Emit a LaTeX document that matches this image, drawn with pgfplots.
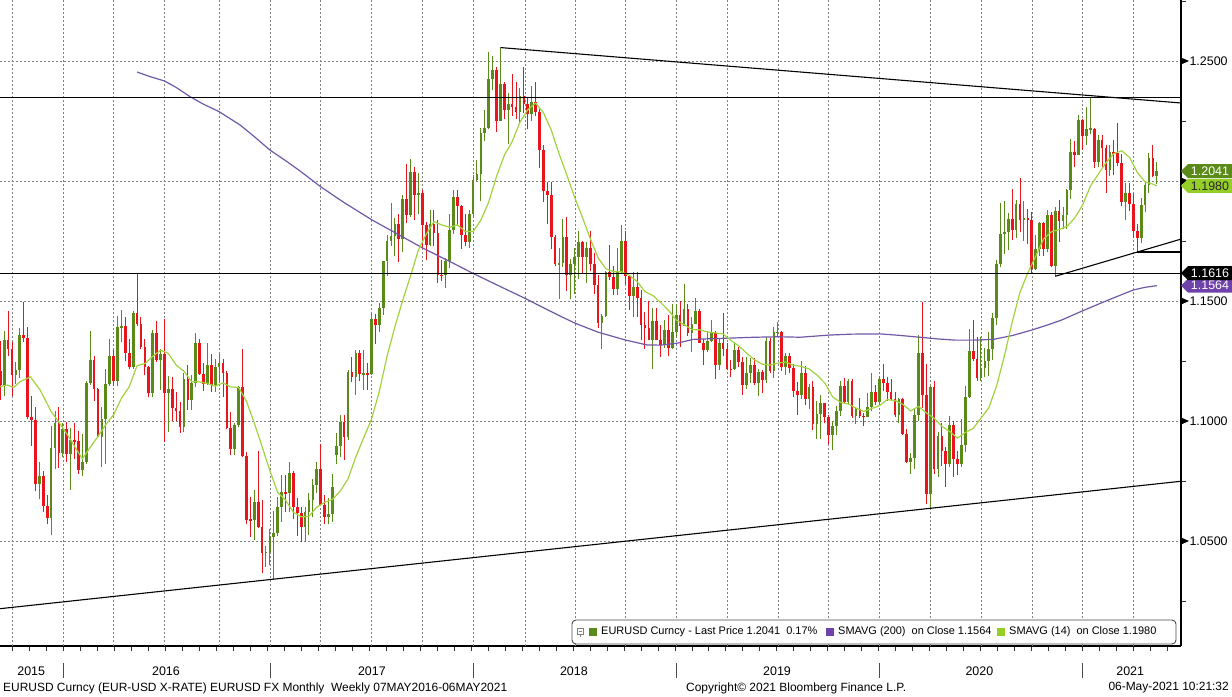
\documentclass[border=0pt]{standalone}
\usepackage{pgfplots}
\pgfplotsset{compat=1.18}
\usepackage{pgfplotstable}
\usepackage{fontspec}
\setmainfont{Liberation Sans}

\definecolor{upc}{RGB}{90,138,24}
\definecolor{dnc}{RGB}{232,22,28}
\definecolor{smaf}{RGB}{160,212,60}
\definecolor{smas}{RGB}{112,88,168}
\definecolor{tagpur}{RGB}{110,66,170}
\definecolor{taglg}{RGB}{150,206,40}
\definecolor{gridc}{RGB}{128,128,128}

% weekly EURUSD candles: week index, open, high, low, close
\pgfplotstableread{
i o h l c
0 1.1210 1.1332 1.1087 1.1151
1 1.1151 1.1375 1.1105 1.1339
2 1.1339 1.1460 1.1270 1.1300
3 1.1300 1.1330 1.1105 1.1193
4 1.1193 1.1245 1.1155 1.1214
5 1.1214 1.1386 1.1180 1.1357
6 1.1357 1.1495 1.1330 1.1347
7 1.1347 1.1390 1.1010 1.1017
8 1.1017 1.1103 1.0896 1.1005
9 1.1005 1.1060 1.0707 1.0739
10 1.0739 1.0830 1.0675 1.0772
11 1.0772 1.0790 1.0620 1.0646
12 1.0646 1.0691 1.0570 1.0594
13 1.0594 1.0981 1.0524 1.0886
14 1.0886 1.1043 1.0800 1.0990
15 1.0990 1.1060 1.0805 1.0867
16 1.0867 1.0990 1.0850 1.0965
17 1.0965 1.0994 1.0830 1.0862
18 1.0862 1.0972 1.0711 1.0922
19 1.0922 1.0990 1.0840 1.0915
20 1.0915 1.0958 1.0778 1.0797
21 1.0797 1.0945 1.0770 1.0831
22 1.0831 1.1165 1.0820 1.1157
23 1.1157 1.1376 1.1150 1.1255
24 1.1255 1.1270 1.1085 1.1132
25 1.1132 1.1138 1.0932 1.0933
26 1.0933 1.1059 1.0810 1.1008
27 1.1008 1.1218 1.0822 1.1153
28 1.1153 1.1342 1.1145 1.1269
29 1.1269 1.1296 1.1144 1.1168
30 1.1168 1.1438 1.1145 1.1390
31 1.1390 1.1464 1.1330 1.1397
32 1.1397 1.1435 1.1248 1.1285
33 1.1285 1.1340 1.1215 1.1225
34 1.1225 1.1460 1.1217 1.1452
35 1.1452 1.1616 1.1394 1.1404
36 1.1404 1.1432 1.1300 1.1309
37 1.1309 1.1340 1.1190 1.1225
38 1.1225 1.1230 1.1098 1.1115
39 1.1115 1.1380 1.1098 1.1365
40 1.1365 1.1416 1.1245 1.1253
41 1.1253 1.1300 1.1130 1.1279
42 1.1279 1.1427 1.0912 1.1117
43 1.1117 1.1187 1.0955 1.1135
44 1.1135 1.1185 1.1000 1.1055
45 1.1055 1.1120 1.1000 1.1040
46 1.1040 1.1080 1.0952 1.0976
47 1.0976 1.1200 1.0954 1.1175
48 1.1175 1.1235 1.1045 1.1086
49 1.1086 1.1192 1.1045 1.1160
50 1.1160 1.1366 1.1140 1.1325
51 1.1325 1.1340 1.1190 1.1196
52 1.1196 1.1240 1.1123 1.1154
53 1.1154 1.1327 1.1150 1.1233
54 1.1233 1.1280 1.1120 1.1152
55 1.1152 1.1257 1.1120 1.1227
56 1.1227 1.1280 1.1160 1.1241
57 1.1241 1.1260 1.1100 1.1201
58 1.1201 1.1210 1.0966 1.0972
59 1.0972 1.1038 1.0858 1.0883
60 1.0883 1.0990 1.0860 1.0985
61 1.0985 1.1144 1.0975 1.1140
62 1.1140 1.1299 1.0850 1.0856
63 1.0856 1.0870 1.0569 1.0589
64 1.0589 1.0685 1.0518 1.0588
65 1.0588 1.0713 1.0505 1.0663
66 1.0663 1.0874 1.0553 1.0558
67 1.0558 1.0669 1.0366 1.0450
68 1.0450 1.0480 1.0392 1.0455
69 1.0455 1.0550 1.0400 1.0517
70 1.0517 1.0625 1.0341 1.0532
71 1.0532 1.0685 1.0520 1.0643
72 1.0643 1.0775 1.0580 1.0704
73 1.0704 1.0776 1.0620 1.0699
74 1.0699 1.0829 1.0620 1.0783
75 1.0783 1.0790 1.0590 1.0640
76 1.0640 1.0680 1.0520 1.0615
77 1.0615 1.0640 1.0494 1.0560
78 1.0560 1.0640 1.0495 1.0620
79 1.0620 1.0700 1.0525 1.0671
80 1.0671 1.0760 1.0600 1.0734
81 1.0734 1.0828 1.0700 1.0799
82 1.0799 1.0906 1.0650 1.0652
83 1.0652 1.0690 1.0570 1.0598
84 1.0598 1.0680 1.0570 1.0614
85 1.0614 1.0778 1.0580 1.0727
86 1.0858 1.0948 1.0820 1.0895
87 1.0895 1.1023 1.0850 1.0997
88 1.0997 1.1023 1.0839 1.0933
89 1.0933 1.1212 1.0920 1.1206
90 1.1206 1.1268 1.1162 1.1183
91 1.1183 1.1296 1.1110 1.1283
92 1.1283 1.1296 1.1168 1.1196
93 1.1196 1.1296 1.1130 1.1197
94 1.1197 1.1240 1.1130 1.1196
95 1.1196 1.1445 1.1190 1.1426
96 1.1426 1.1446 1.1320 1.1399
97 1.1399 1.1490 1.1371 1.1471
98 1.1471 1.1668 1.1440 1.1666
99 1.1666 1.1777 1.1603 1.1750
100 1.1750 1.1910 1.1730 1.1772
101 1.1772 1.1846 1.1688 1.1820
102 1.1820 1.1862 1.1662 1.1760
103 1.1760 1.1940 1.1705 1.1924
104 1.1924 1.2070 1.1823 1.1859
105 1.1859 1.2092 1.1850 1.2036
106 1.2036 1.2060 1.1837 1.1942
107 1.1942 1.2035 1.1862 1.1952
108 1.1952 1.1962 1.1717 1.1815
109 1.1815 1.1830 1.1669 1.1732
110 1.1732 1.1880 1.1728 1.1822
111 1.1822 1.1880 1.1731 1.1782
112 1.1782 1.1837 1.1574 1.1608
113 1.1608 1.1669 1.1584 1.1607
114 1.1607 1.1680 1.1554 1.1665
115 1.1665 1.1862 1.1636 1.1794
116 1.1794 1.1961 1.1780 1.1932
117 1.1932 1.1961 1.1812 1.1894
118 1.1894 1.1900 1.1717 1.1773
119 1.1773 1.1863 1.1730 1.1747
120 1.1747 1.1880 1.1720 1.1863
121 1.1863 1.2023 1.1849 1.2005
122 1.2005 1.2089 1.2000 1.2029
123 1.2029 1.2219 1.1915 1.2200
124 1.2200 1.2296 1.2165 1.2220
125 1.2220 1.2537 1.2215 1.2427
126 1.2427 1.2520 1.2378 1.2461
127 1.2461 1.2475 1.2206 1.2252
128 1.2252 1.2556 1.2250 1.2405
129 1.2405 1.2414 1.2260 1.2294
130 1.2294 1.2365 1.2155 1.2319
131 1.2319 1.2446 1.2272 1.2307
132 1.2307 1.2413 1.2258 1.2289
133 1.2289 1.2388 1.2240 1.2354
134 1.2354 1.2476 1.2285 1.2321
135 1.2321 1.2345 1.2215 1.2280
136 1.2280 1.2396 1.2250 1.2330
137 1.2330 1.2414 1.2270 1.2288
138 1.2288 1.2302 1.2055 1.2130
139 1.2130 1.2150 1.1911 1.1960
140 1.1960 1.1996 1.1822 1.1942
141 1.1942 1.1997 1.1716 1.1767
142 1.1767 1.1774 1.1644 1.1653
143 1.1653 1.1720 1.1510 1.1659
144 1.1659 1.1840 1.1642 1.1768
145 1.1768 1.1852 1.1540 1.1609
146 1.1609 1.1675 1.1508 1.1656
147 1.1656 1.1721 1.1528 1.1685
148 1.1685 1.1791 1.1590 1.1746
149 1.1746 1.1748 1.1614 1.1685
150 1.1685 1.1745 1.1575 1.1722
151 1.1722 1.1791 1.1624 1.1656
152 1.1656 1.1700 1.1529 1.1566
153 1.1566 1.1610 1.1386 1.1410
154 1.1410 1.1446 1.1301 1.1439
155 1.1439 1.1624 1.1433 1.1620
156 1.1620 1.1734 1.1588 1.1601
157 1.1601 1.1645 1.1527 1.1551
158 1.1551 1.1721 1.1526 1.1623
159 1.1623 1.1815 1.1614 1.1750
160 1.1750 1.1793 1.1570 1.1604
161 1.1604 1.1609 1.1463 1.1523
162 1.1523 1.1622 1.1432 1.1560
163 1.1560 1.1621 1.1433 1.1511
164 1.1511 1.1547 1.1336 1.1402
165 1.1402 1.1456 1.1302 1.1388
166 1.1388 1.1500 1.1336 1.1336
167 1.1336 1.1472 1.1216 1.1416
168 1.1416 1.1472 1.1336 1.1339
169 1.1339 1.1401 1.1267 1.1317
170 1.1317 1.1420 1.1305 1.1378
171 1.1378 1.1442 1.1270 1.1306
172 1.1306 1.1486 1.1302 1.1370
173 1.1370 1.1487 1.1348 1.1443
174 1.1443 1.1498 1.1309 1.1395
175 1.1395 1.1570 1.1395 1.1468
176 1.1468 1.1486 1.1355 1.1366
177 1.1366 1.1433 1.1289 1.1405
178 1.1405 1.1514 1.1404 1.1457
179 1.1457 1.1467 1.1324 1.1325
180 1.1325 1.1342 1.1234 1.1295
181 1.1295 1.1373 1.1288 1.1334
182 1.1334 1.1420 1.1330 1.1365
183 1.1365 1.1375 1.1177 1.1235
184 1.1235 1.1340 1.1213 1.1325
185 1.1325 1.1448 1.1270 1.1298
186 1.1298 1.1325 1.1212 1.1217
187 1.1217 1.1255 1.1183 1.1216
188 1.1216 1.1324 1.1211 1.1296
189 1.1296 1.1309 1.1226 1.1246
190 1.1246 1.1265 1.1110 1.1151
191 1.1151 1.1265 1.1135 1.1201
192 1.1201 1.1263 1.1160 1.1233
193 1.1233 1.1264 1.1152 1.1157
194 1.1157 1.1216 1.1106 1.1205
195 1.1205 1.1214 1.1116 1.1170
196 1.1170 1.1348 1.1160 1.1334
197 1.1334 1.1347 1.1202 1.1209
198 1.1209 1.1393 1.1181 1.1370
199 1.1370 1.1412 1.1352 1.1370
200 1.1370 1.1376 1.1207 1.1225
201 1.1225 1.1285 1.1193 1.1270
202 1.1270 1.1282 1.1200 1.1219
203 1.1219 1.1237 1.1101 1.1127
204 1.1127 1.1162 1.1027 1.1109
205 1.1109 1.1250 1.1090 1.1200
206 1.1200 1.1230 1.1066 1.1091
207 1.1091 1.1153 1.1052 1.1142
208 1.1142 1.1165 1.0964 1.0989
209 1.0989 1.1085 1.0926 1.1028
210 1.1028 1.1110 1.0927 1.1074
211 1.1074 1.1075 1.0990 1.1017
212 1.1017 1.1025 1.0903 1.0940
213 1.0940 1.1000 1.0879 1.0978
214 1.0978 1.1063 1.0940 1.1040
215 1.1040 1.1166 1.1020 1.1144
216 1.1144 1.1179 1.1073 1.1080
217 1.1080 1.1175 1.1070 1.1165
218 1.1165 1.1176 1.1014 1.1019
219 1.1019 1.1055 1.0989 1.1052
220 1.1052 1.1097 1.1014 1.1022
221 1.1022 1.1033 1.0981 1.1017
222 1.1017 1.1117 1.1015 1.1059
223 1.1059 1.1200 1.1040 1.1119
224 1.1119 1.1152 1.1066 1.1079
225 1.1079 1.1188 1.1069 1.1176
226 1.1176 1.1239 1.1125 1.1160
227 1.1160 1.1184 1.1085 1.1120
228 1.1120 1.1173 1.1086 1.1090
229 1.1090 1.1119 1.1016 1.1026
230 1.1026 1.1096 1.0992 1.1093
231 1.1093 1.1096 1.0941 1.0945
232 1.0945 1.0965 1.0827 1.0831
233 1.0831 1.0866 1.0778 1.0847
234 1.0847 1.1053 1.0800 1.1026
235 1.1026 1.1357 1.1000 1.1284
236 1.1284 1.1495 1.1055 1.1107
237 1.1107 1.1236 1.0654 1.0695
238 1.0695 1.1147 1.0636 1.1141
239 1.1141 1.1168 1.0778 1.0801
240 1.0801 1.0955 1.0768 1.0936
241 1.0936 1.0990 1.0812 1.0875
242 1.0875 1.0891 1.0727 1.0821
243 1.0821 1.1019 1.0809 1.0982
244 1.0982 1.1000 1.0767 1.0840
245 1.0840 1.0875 1.0775 1.0819
246 1.0819 1.1008 1.0810 1.0901
247 1.0901 1.1145 1.0870 1.1100
248 1.1100 1.1384 1.1097 1.1290
249 1.1290 1.1422 1.1250 1.1257
250 1.1257 1.1349 1.1168 1.1178
251 1.1178 1.1349 1.1168 1.1220
252 1.1220 1.1303 1.1185 1.1248
253 1.1248 1.1371 1.1186 1.1300
254 1.1300 1.1452 1.1255 1.1428
255 1.1428 1.1670 1.1402 1.1656
256 1.1656 1.1909 1.1641 1.1778
257 1.1778 1.1916 1.1696 1.1788
258 1.1788 1.1866 1.1712 1.1842
259 1.1842 1.1966 1.1753 1.1795
260 1.1795 1.1922 1.1762 1.1904
261 1.1904 1.2011 1.1789 1.1838
262 1.1838 1.1917 1.1752 1.1845
263 1.1845 1.1882 1.1737 1.1838
264 1.1838 1.1872 1.1612 1.1632
265 1.1632 1.1775 1.1628 1.1716
266 1.1716 1.1831 1.1686 1.1827
267 1.1827 1.1830 1.1689 1.1718
268 1.1718 1.1881 1.1703 1.1860
269 1.1860 1.1870 1.1640 1.1647
270 1.1647 1.1891 1.1603 1.1875
271 1.1875 1.1920 1.1745 1.1833
272 1.1833 1.1891 1.1800 1.1857
273 1.1857 1.1965 1.1800 1.1964
274 1.1964 1.2177 1.1925 1.2121
275 1.2121 1.2165 1.2058 1.2110
276 1.2110 1.2273 1.2110 1.2256
277 1.2256 1.2260 1.2130 1.2186
278 1.2186 1.2310 1.2150 1.2216
279 1.2216 1.2349 1.2195 1.2218
280 1.2218 1.2220 1.2054 1.2081
281 1.2081 1.2190 1.2060 1.2170
282 1.2170 1.2190 1.2058 1.2136
283 1.2136 1.2150 1.1952 1.2045
284 1.2045 1.2150 1.2020 1.2119
285 1.2119 1.2170 1.2023 1.2118
286 1.2118 1.2243 1.2064 1.2074
287 1.2074 1.2114 1.1895 1.1914
288 1.1914 1.1990 1.1836 1.1951
289 1.1951 1.1990 1.1874 1.1904
290 1.1904 1.1945 1.1762 1.1793
291 1.1793 1.1820 1.1704 1.1761
292 1.1761 1.1928 1.1740 1.1900
293 1.1900 1.1995 1.1870 1.1983
294 1.1983 1.2117 1.1950 1.2097
295 1.2097 1.2150 1.2015 1.2020
296 1.2020 1.2078 1.1986 1.2041
}\candles

\begin{document}
\begin{tikzpicture}
\begin{axis}[
  at={(0bp,0bp)}, anchor=north west,
  width=1181bp, height=646bp, scale only axis,
  xmin=-0.08, xmax=302.2, ymin=1.00625, ymax=1.275417,
  clip=false,
  axis x line=bottom, axis y line=right,
  axis line style={-, line width=1.1bp},
  tick align=outside,
  major tick length=0pt, minor tick length=5bp,
  minor tick style={line width=0.8bp, black!80},
  xtick={7.9,42.4,95.1,146.8,198.8,250.6,289.2},
  xticklabels={2015,2016,2017,2018,2019,2020,2021},
  xticklabel style={anchor=center, yshift=-25bp},
  minor xtick={3.17,7.516,...,300},
  extra x ticks={3.17,16.12,29.02,41.98,56.05,69.1,82.0,95.06,108.1,121.07,134.3,147.17,160.07,173.13,186.08,199.24,212.04,224.99,238.15,251.2,264.24,277.04,290.0},
  extra x tick labels={},
  extra x tick style={grid=major},
  ytick={1.05,1.1,1.15,1.2,1.25},
  yticklabels={1.0500,1.1000,1.1500,,1.2500},
  minor ytick={1.025,1.075,1.125,1.175,1.225,1.275},
  ymajorgrids,
  grid style={gridc, line width=0.9bp, dash pattern=on 2bp off 2bp},
  yticklabel style={anchor=west, xshift=5bp},
  tick label style={font=\fontsize{12.5}{14}\selectfont},
]
% wicks
\addplot[draw=none, mark=none, forget plot, restrict x to domain=-10:400,
  error bars/.cd, y dir=plus, y explicit, error mark=none,
  error bar style={line width=1bp, draw=upc}]
  table[x expr={\thisrow{c}<\thisrow{o} ? -100 : \thisrow{i}}, y=l,
        y error plus expr={\thisrow{h}-\thisrow{l}}] {\candles};
\addplot[draw=none, mark=none, forget plot, restrict x to domain=-10:400,
  error bars/.cd, y dir=plus, y explicit, error mark=none,
  error bar style={line width=1bp, draw=dnc}]
  table[x expr={\thisrow{c}<\thisrow{o} ? \thisrow{i} : -100}, y=l,
        y error plus expr={\thisrow{h}-\thisrow{l}}] {\candles};
% bodies
\addplot[draw=none, mark=none, forget plot, restrict x to domain=-10:400,
  error bars/.cd, y dir=both, y explicit, error mark=none,
  error bar style={line width=2.7bp, draw=upc}]
  table[x expr={\thisrow{c}<\thisrow{o} ? -100 : \thisrow{i}},
        y expr={(\thisrow{o}+\thisrow{c})/2},
        y error expr={max(abs(\thisrow{c}-\thisrow{o})/2,0.0002)}] {\candles};
\addplot[draw=none, mark=none, forget plot, restrict x to domain=-10:400,
  error bars/.cd, y dir=both, y explicit, error mark=none,
  error bar style={line width=2.7bp, draw=dnc}]
  table[x expr={\thisrow{c}<\thisrow{o} ? \thisrow{i} : -100},
        y expr={(\thisrow{o}+\thisrow{c})/2},
        y error expr={max(abs(\thisrow{c}-\thisrow{o})/2,0.0002)}] {\candles};

% SMAVG (200)
\addplot[smas, line width=1.2bp, mark=none] coordinates {
(35,1.2454) (38.3,1.2435) (42,1.2417) (45,1.2390) (48.6,1.2351) (52,1.2320)
(56,1.2289) (61.4,1.2233) (65,1.2185) (69,1.2129) (73,1.2085) (76.7,1.2042)
(82,1.1976) (88,1.1910) (95.1,1.1838) (101,1.1785) (108.2,1.1720) (115,1.1665)
(121,1.1615) (128,1.1560) (134.3,1.1511) (139,1.1472) (143.3,1.1437) (147.2,1.1407)
(153,1.1370) (160.1,1.1337) (165.5,1.1317) (169,1.1316) (173.2,1.1324) (177.3,1.1340)
(182,1.1343) (186.1,1.1345) (193,1.1349) (199.3,1.1351) (204.7,1.1349) (212.1,1.1358)
(218,1.1362) (225.2,1.1363) (230,1.1357) (235.4,1.1349) (240,1.1342) (244.4,1.1337)
(249,1.1337) (254.1,1.1340) (259,1.1356) (264,1.1379) (268,1.1400) (271.7,1.1421)
(276,1.1452) (281.5,1.1490) (286,1.1520) (290,1.1546) (293,1.1557) (296,1.1564)
};
% SMAVG (14)
\addplot[smaf, line width=1.2bp, mark=none] coordinates {
(0,1.1143) (1.7,1.1150) (3.4,1.1140) (5.1,1.1164) (7.7,1.1184) (10.2,1.1129)
(13,1.1040) (15,1.0995) (17,1.0947) (19,1.0895) (21,1.0842) (23,1.0890)
(25,1.0936) (27,1.0985) (29,1.1026) (31,1.1095) (33,1.1143) (35,1.1231)
(37,1.1239) (39,1.1269) (41,1.1295) (43,1.1282) (45,1.1233) (47,1.1207)
(49,1.1164) (51,1.1163) (53,1.1156) (55,1.1145) (57,1.1159) (59,1.1142)
(61,1.1140) (63,1.1082) (65,1.0992) (67,1.0893) (69,1.0793) (71,1.0702)
(73,1.0670) (75,1.0620) (77,1.0601) (79,1.0603) (81,1.0641) (83,1.0661)
(85,1.0673) (87,1.0708) (89,1.0759) (91,1.0851) (93,1.0930) (95,1.1007)
(97,1.1123) (99,1.1271) (101,1.1393) (103,1.1503) (105,1.1605) (107,1.1712)
(109,1.1778) (111,1.1831) (113,1.1817) (115,1.1807) (117,1.1817) (119,1.1790)
(121,1.1789) (123,1.1837) (125,1.1912) (127,1.2019) (129,1.2107) (131,1.2164)
(133,1.2245) (135,1.2297) (137,1.2325) (139,1.2285) (141,1.2213) (143,1.2114)
(145,1.2025) (147,1.1932) (149,1.1848) (151,1.1760) (153,1.1680) (155,1.1634)
(157,1.1622) (159,1.1622) (161,1.1607) (163,1.1581) (165,1.1539) (167,1.1523)
(169,1.1494) (171,1.1461) (173,1.1421) (175,1.1402) (177,1.1381) (179,1.1380)
(181,1.1371) (183,1.1367) (185,1.1363) (187,1.1336) (189,1.1313) (191,1.1283)
(193,1.1255) (195,1.1237) (197,1.1233) (199,1.1241) (201,1.1246) (203,1.1232)
(205,1.1228) (207,1.1217) (209,1.1192) (211,1.1159) (213,1.1101) (215,1.1078)
(217,1.1071) (219,1.1054) (221,1.1040) (223,1.1052) (225,1.1064) (227,1.1089)
(229,1.1085) (231,1.1070) (233,1.1042) (235,1.1061) (237,1.1034) (239,1.1012)
(241,1.0978) (243,1.0956) (245,1.0929) (247,1.0952) (249,1.0969) (251,1.1012)
(253,1.1055) (255,1.1146) (257,1.1272) (259,1.1413) (261,1.1537) (263,1.1618)
(265,1.1686) (267,1.1758) (269,1.1788) (271,1.1798) (273,1.1811) (275,1.1846)
(277,1.1900) (279,1.1978) (281,1.2028) (283,1.2076) (285,1.2114) (287,1.2126)
(289,1.2099) (291,1.2036) (293,1.1996) (295,1.1987) (296,1.1980)
};

% trend lines and levels
\addplot[black, line width=1.3bp] coordinates {(-0.08,1.2349) (302.2,1.2349)};
\addplot[black, line width=1.3bp] coordinates {(-0.08,1.1616) (302.2,1.1616)};
\addplot[black, line width=1.1bp] coordinates {(128,1.2556) (302.2,1.2325)};
\addplot[black, line width=1.1bp] coordinates {(-0.08,1.0218) (302.2,1.0749)};
\addplot[black, line width=1.1bp] coordinates {(270,1.1603) (302.2,1.1758)};
\addplot[black, line width=1.1bp] coordinates {(291,1.1704) (302.2,1.1704)};

% year separators under the axis
\pgfplotsinvokeforeach{16.12,69.1,121.07,173.13,224.99,277.04}{
  \draw[line width=0.9bp, black!70] (axis cs:#1,1.00625) ++(0bp,-17bp) -- ++(0bp,-15bp);
}
% price tick markers
\pgfplotsinvokeforeach{1.05,1.1,1.15,1.2,1.25}{
  \fill (axis cs:302.2,#1) ++(0bp,3.5bp) -- ++(8bp,-3.5bp) -- ++(-8bp,-3.5bp) -- cycle;
}
\end{axis}

% price tags
\newcommand{\pricetag}[4]{%
  \fill[#2] (1181bp,-#1bp) -- (1188bp,-#1bp+7bp) -- (1232bp,-#1bp+7bp)
    -- (1232bp,-#1bp-7bp) -- (1188bp,-#1bp-7bp) -- cycle;
  \node[text=#3, font=\fontsize{12.5}{14}\selectfont, inner sep=0pt]
    at (1210bp,-#1bp) {#4};}
\pricetag{185.8}{taglg}{black!85}{1.1980}
\pricetag{171.2}{upc}{white}{1.2041}
\pricetag{285.6}{tagpur}{white}{1.1564}
\pricetag{273.2}{black}{white}{1.1616}

% legend box
\draw[black!70, line width=0.9bp, fill=white, rounded corners=4bp]
  (572bp,-620bp) rectangle (1176bp,-644bp);
\draw[gray, line width=0.7bp] (577bp,-628bp) rectangle (583bp,-634bp);
\draw[gray, line width=0.7bp] (578.5bp,-631bp) -- (581.5bp,-631bp);
\draw[gray, line width=0.7bp] (580bp,-634bp) -- (580bp,-637bp);
\fill[upc] (589bp,-628bp) rectangle (597bp,-636bp);
\fill[tagpur] (826bp,-628bp) rectangle (834bp,-636bp);
\fill[taglg] (997bp,-628bp) rectangle (1005bp,-636bp);
\begin{scope}[every node/.style={anchor=west, inner sep=0pt, font=\fontsize{11}{13}\selectfont}]
\node at (601bp,-632bp) {EURUSD Curncy - Last Price 1.2041~~0.17\%};
\node at (838bp,-632bp) {SMAVG (200)~~on Close 1.1564};
\node at (1009bp,-632bp) {SMAVG (14)~~on Close 1.1980};
\end{scope}

% footer
\begin{scope}[every node/.style={inner sep=0pt, font=\fontsize{12}{14}\selectfont}]
\node[anchor=west] at (3bp,-688bp) {EURUSD Curncy (EUR-USD X-RATE) EURUSD FX Monthly~~Weekly 07MAY2016-06MAY2021};
\node[anchor=west] at (686bp,-688bp) {Copyright© 2021 Bloomberg Finance L.P.};
\node[anchor=east] at (1229bp,-688bp) {06-May-2021 10:21:32};
\end{scope}

\pgfresetboundingbox
\path[use as bounding box] (0bp,0bp) rectangle (1232bp,-697bp);
\end{tikzpicture}
\end{document}
